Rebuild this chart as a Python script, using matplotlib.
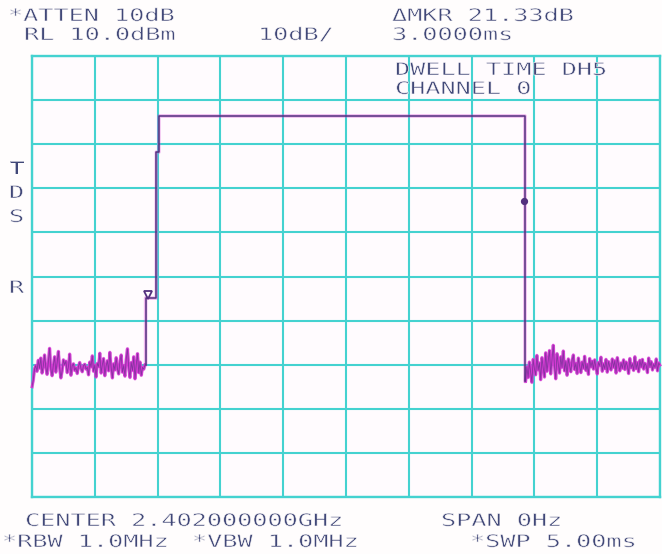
import numpy as np
import matplotlib
matplotlib.use("Agg")
import matplotlib.pyplot as plt
from matplotlib.patheffects import AbstractPathEffect
from matplotlib.transforms import Affine2D

sweep_ms = [0.0, 5.0]            # SWP 5.00 ms, span 0 Hz (time domain)
ref_level_dbm = 10.0             # RL 10.0 dBm
db_per_div = 10.0                # 10 dB/
n_div = 10

noise_left_span = [0.0, 0.90]
noise_left_dbm = [
    -65.0, -63.5, -61.0, -60.2, -61.5, -59.0, -60.8, -58.5, -61.9, -60.3,
    -57.8, -60.6, -62.2, -59.4, -56.3, -61.0, -62.5, -60.1, -58.2, -61.7,
    -59.6, -57.0, -60.8, -63.0, -61.4, -58.9, -60.0, -59.2, -61.8, -60.5,
    -57.6, -62.4, -60.2, -59.8, -61.3, -60.7, -62.0, -60.4, -59.5, -60.9,
    -61.6, -60.2, -59.9, -61.0, -60.6, -62.3, -59.4, -60.5, -58.0, -61.5,
    -60.1, -62.8, -59.7, -60.4, -57.4, -61.9, -60.0, -58.6, -62.5, -60.3,
    -59.1, -61.4, -57.2, -60.6, -63.0, -59.8, -61.2, -58.4, -60.9, -62.1,
    -59.3, -57.8, -61.7, -60.2, -62.6, -58.8, -56.4, -60.7, -62.9, -59.5,
    -61.3, -58.2, -63.2, -60.0, -57.5, -61.8, -59.4, -62.4, -60.6, -61.0, -60.0]

pulse_ms = [0.905, 0.905, 0.99, 0.99, 1.01, 1.01, 3.925, 3.925]
pulse_dbm = [-60.0, -44.9, -44.9, -11.8, -11.8, -3.6, -3.6, -63.8]

noise_right_span = [3.93, 5.0]
noise_right_dbm = [
    -63.8, -60.5, -62.9, -59.4, -61.7, -64.0, -58.8, -60.9, -62.3, -57.9,
    -61.2, -59.6, -63.4, -58.4, -60.7, -62.8, -57.3, -61.5, -59.1, -56.8,
    -62.1, -58.9, -55.6, -60.4, -63.2, -57.5, -59.8, -61.9, -58.2, -60.6,
    -56.9, -61.4, -59.3, -62.4, -58.7, -60.1, -61.6, -59.0, -57.8, -61.1,
    -59.7, -62.0, -58.5, -60.3, -61.8, -59.4, -60.8, -58.1, -61.3, -59.9,
    -62.2, -58.6, -60.5, -59.2, -61.0, -58.9, -60.7, -62.1, -59.5, -60.2,
    -58.3, -61.5, -59.8, -60.9, -58.8, -61.7, -59.3, -60.4, -61.2, -58.7,
    -60.6, -59.1, -61.9, -58.4, -60.0, -61.4, -59.6, -60.8, -58.9, -61.1,
    -59.4, -60.3, -62.0, -58.6, -60.7, -59.8, -61.3, -58.2, -60.9, -59.5,
    -61.6, -59.0, -60.5, -58.8, -61.0, -59.7, -60.2, -61.8, -58.5, -60.4,
    -59.3, -61.2, -59.9, -60.6, -58.7, -61.4, -59.6, -60.1]

marker_ms = [0.92, 3.92]
marker_dbm = [-44.3, -22.97]     # delta = 21.33 dB, 3.0000 ms

header_texts = ["*ATTEN 10dB", "RL 10.0dBm", "10dB/", "\u0394MKR 21.33dB",
                "3.0000ms", "DWELL TIME DH5", "CHANNEL 0"]
footer_texts = ["CENTER 2.402000000GHz", "SPAN 0Hz",
                "*RBW 1.0MHz", "*VBW 1.0MHz", "*SWP 5.00ms"]
side_letters = ["T", "D", "S", "R"]

# ---------------- styling ----------------
W, H = 662, 554
DPI = 100
GRID_C = "#44d2d0"
TEXT_C = "#414878"
TRACE_DARK = "#53307f"
TRACE_MAG = "#d23ad2"
BG = "#fffbfe"
FIG_BG = "#fffdfd"


class Widen(AbstractPathEffect):
    """Draw text glyphs stretched horizontally (analyzer character cells);
    optionally an outline stroke in the background colour to thin strokes."""
    def __init__(self, sx, erode_color=None, erode_lw=0.0):
        super().__init__()
        self.sx = sx
        self.erode_color = erode_color
        self.erode_lw = erode_lw

    def draw_path(self, renderer, gc, tpath, affine, rgbFace=None):
        aff = Affine2D().scale(self.sx, 1.0) + affine
        if self.erode_color is None:
            renderer.draw_path(gc, tpath, aff, rgbFace)
        else:
            gc0 = renderer.new_gc()
            gc0.copy_properties(gc)
            gc0.set_foreground(self.erode_color)
            gc0.set_linewidth(self.erode_lw)
            renderer.draw_path(gc0, tpath, aff, None)
            gc0.restore()


fig = plt.figure(figsize=(W / DPI, H / DPI), dpi=DPI, facecolor=FIG_BG)
L, R, T, B = 32, 660, 56, 497
ax = fig.add_axes([L / W, 1 - B / H, (R - L) / W, (B - T) / H])
ax.set_facecolor(BG)

x0, x1 = sweep_ms
ybot = ref_level_dbm - n_div * db_per_div
ax.set_xlim(x0, x1)
ax.set_ylim(ybot, ref_level_dbm)
ax.set_xticks(np.linspace(x0, x1, n_div + 1))
ax.set_yticks(np.linspace(ybot, ref_level_dbm, n_div + 1))
ax.tick_params(length=0, labelbottom=False, labelleft=False)
ax.grid(True, color=GRID_C, lw=1.5)
for s in ax.spines.values():
    s.set_color(GRID_C)
    s.set_linewidth(1.7)

tl = np.linspace(noise_left_span[0], noise_left_span[1], len(noise_left_dbm))
tr = np.linspace(noise_right_span[0], noise_right_span[1], len(noise_right_dbm))
t_all = np.concatenate([tl, pulse_ms, tr])
y_all = np.concatenate([noise_left_dbm, pulse_dbm, noise_right_dbm])

# noise: magenta body with darker strands
ax.plot(tl, noise_left_dbm, color=TRACE_MAG, lw=2.0, zorder=3, clip_on=False)
ax.plot(tr, noise_right_dbm, color=TRACE_MAG, lw=2.0, zorder=3, clip_on=False)
ax.plot(t_all, y_all, color=TRACE_MAG, lw=2.6, alpha=0.35, zorder=3)
ax.plot(pulse_ms, pulse_dbm, color=TRACE_DARK, lw=1.1, zorder=4)
ax.plot(tl, noise_left_dbm, color=TRACE_DARK, lw=0.6, alpha=0.6, zorder=4)
ax.plot(tr, noise_right_dbm, color=TRACE_DARK, lw=0.6, alpha=0.6, zorder=4)

ax.plot(marker_ms[0], marker_dbm[0], marker="v", ms=6, mfc="none",
        mec=TRACE_DARK, mew=1.3, zorder=5)
ax.plot(marker_ms[1], marker_dbm[1], marker="o", ms=4.2, mfc=TRACE_DARK,
        mec=TRACE_DARK, zorder=5)

# ---------------- screen annotations ----------------
FS = 12.5
SX = 1.45
fx = lambda px: px / W
fy = lambda py: 1 - py / H


def screen_text(s, px, py_base, bg):
    fig.text(fx(px), fy(py_base), s, fontsize=FS, color=TEXT_C,
             family="DejaVu Sans Mono", ha="left", va="baseline",
             path_effects=[Widen(SX), Widen(SX, erode_color=bg, erode_lw=0.45)])


header_pos = [(8, 21), (24, 40), (258, 40), (392, 21), (392, 40), (395, 75), (395, 94)]
header_bg = [FIG_BG, FIG_BG, FIG_BG, FIG_BG, FIG_BG, BG, BG]
for s, (px, py), bg in zip(header_texts, header_pos, header_bg):
    screen_text(s, px, py, bg)

footer_pos = [(25, 526), (441, 526), (2, 547), (192, 547), (470, 547)]
for s, (px, py) in zip(footer_texts, footer_pos):
    screen_text(s, px, py, FIG_BG)

side_pos = [(9, 174), (9, 198), (9, 222), (9, 293)]
for s, (px, py) in zip(side_letters, side_pos):
    screen_text(s, px, py, FIG_BG)

fig.savefig("out.png", dpi=DPI, facecolor=fig.get_facecolor())
